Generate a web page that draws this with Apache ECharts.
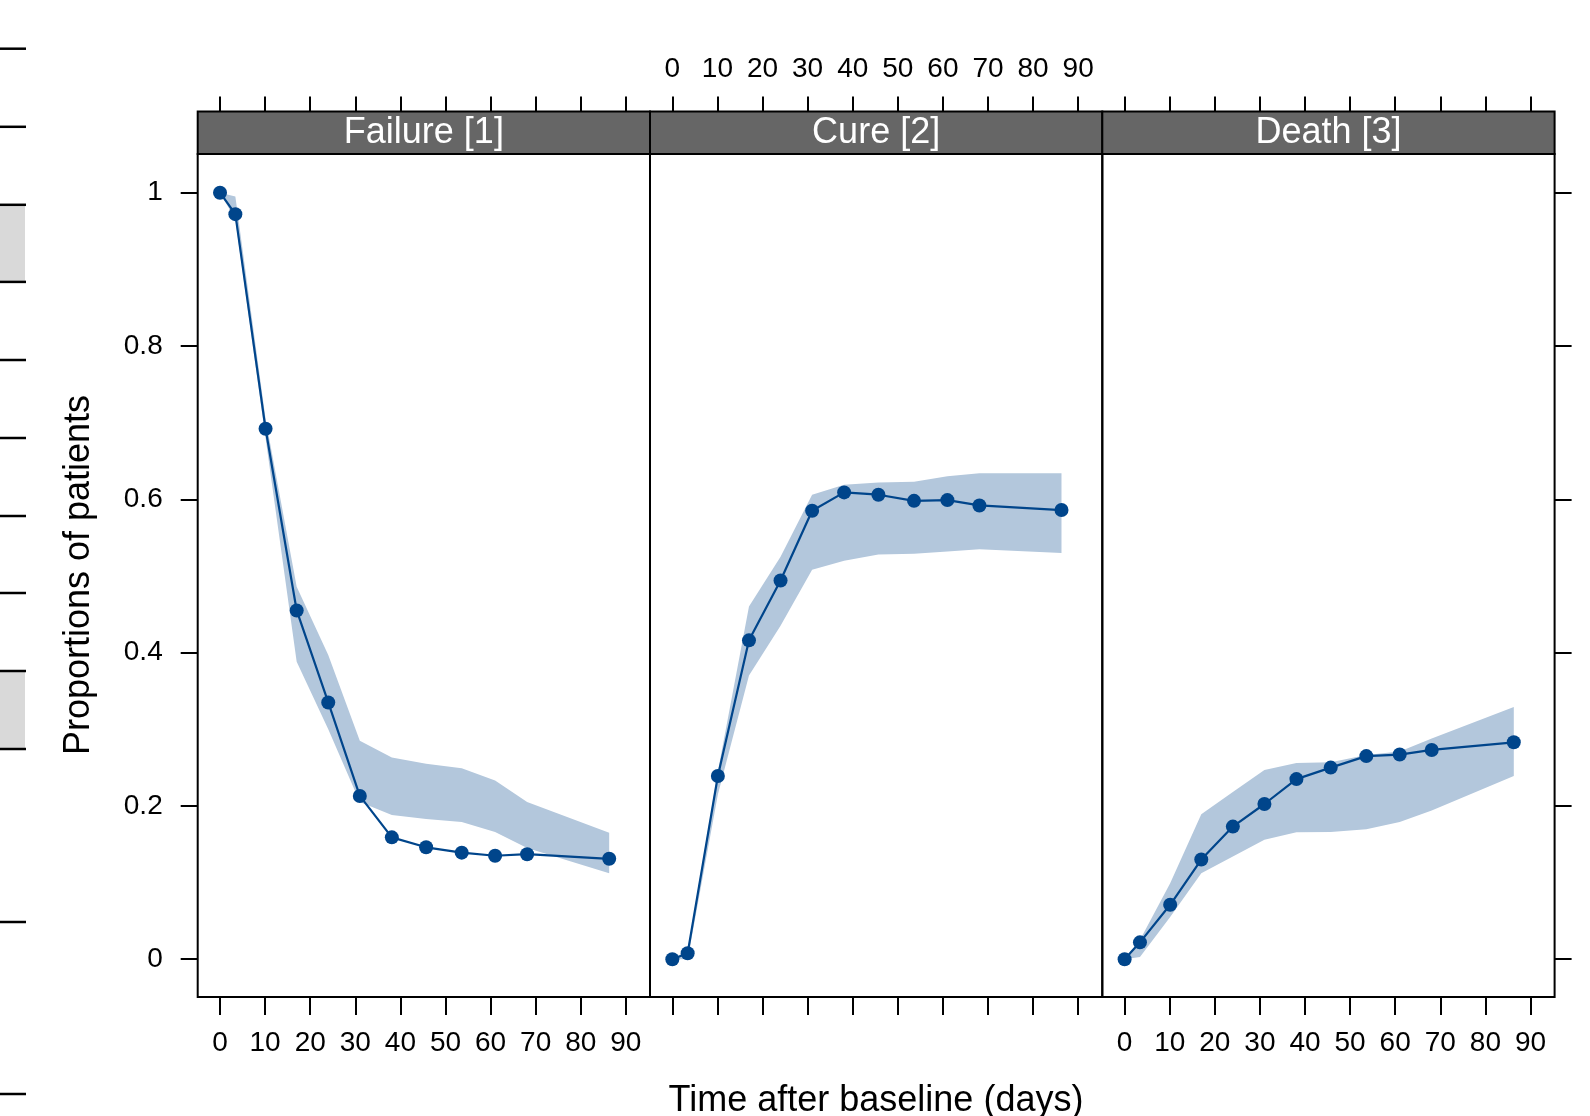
<!DOCTYPE html>
<html>
<head>
<meta charset="utf-8">
<script src="https://cdn.jsdelivr.net/npm/echarts@6/dist/echarts.min.js"></script>
<style>
  html, body { margin: 0; padding: 0; background: #fff; }
  #chart { width: 1590px; height: 1116px; }
</style>
</head>
<body>
<div id="chart"></div>
<script>
// panels (outcome states)
const panelNames = ['Failure [1]', 'Cure [2]', 'Death [3]']
// days after baseline of each visit
const times = [0, 3.4, 10.1, 17, 24, 31, 38.1, 45.7, 53.6, 61, 68.1, 86.3]

// observed proportions and band limits
const failure = [1.0, 0.972, 0.692, 0.455, 0.335, 0.213, 0.159, 0.146, 0.139, 0.135, 0.137, 0.131]
const failureLower = [1.0, 0.965, 0.68, 0.388, 0.30, 0.205, 0.188, 0.183, 0.179, 0.166, 0.145, 0.112]
const failureUpper = [1.0, 0.995, 0.705, 0.486, 0.397, 0.285, 0.263, 0.255, 0.249, 0.233, 0.205, 0.165]

const cure = [0, 0.0077, 0.239, 0.416, 0.494, 0.585, 0.609, 0.606, 0.598, 0.599, 0.592, 0.586]
const cureLower = [0, 0.0, 0.215, 0.37, 0.435, 0.508, 0.52, 0.528, 0.529, 0.532, 0.535, 0.53]
const cureUpper = [0, 0.012, 0.245, 0.46, 0.525, 0.606, 0.619, 0.622, 0.623, 0.63, 0.634, 0.634]

const death = [0, 0.022, 0.071, 0.130, 0.173, 0.2025, 0.235, 0.250, 0.265, 0.267, 0.273, 0.283]
const deathLower = [0, 0.003, 0.055, 0.112, 0.134, 0.156, 0.1655, 0.166, 0.1695, 0.179, 0.194, 0.239]
const deathUpper = [0, 0.025, 0.099, 0.189, 0.218, 0.247, 0.256, 0.257, 0.2665, 0.271, 0.288, 0.329]

const xTicks = [0, 10, 20, 30, 40, 50, 60, 70, 80, 90]
const yTicks = [0, 0.2, 0.4, 0.6, 0.8, 1]

const fontFamily = '"Liberation Sans", Arial, sans-serif'
const blue = '#00458b'
const bandColor = '#b3c7dc'

const panelData = [
  [failure, failureLower, failureUpper],
  [cure, cureLower, cureUpper],
  [death, deathLower, deathUpper]
]

// layout (px)
const lefts = [197.7, 650, 1102.3]
const panelW = 452.3
const panelTop = 154
const panelH = 843
const stripH = 42.5

var grids = []
var xAxes = []
var yAxes = []
var series = []
var graphics = []

// band polygon: upper edge left to right, lower edge back
function bandRenderer(bandRows) {
  return function(params, api) {
    if (params.dataIndex !== 0) return
    var pts = []
    for (var k = 0; k < bandRows.length; k++) pts.push(api.coord([bandRows[k][0], bandRows[k][2]]))
    for (var k = bandRows.length - 1; k >= 0; k--) pts.push(api.coord([bandRows[k][0], bandRows[k][1]]))
    return {
      type: 'polygon',
      shape: { points: pts },
      style: { fill: bandColor, stroke: null }
    }
  }
}

for (var i = 0; i < 3; i++) {
  grids.push({
    left: lefts[i], top: panelTop, width: panelW, height: panelH,
    show: true, borderColor: '#000', borderWidth: 2, backgroundColor: 'transparent'
  })
  // bottom axis
  xAxes.push({
    type: 'value', gridIndex: i, position: 'bottom', min: -4.95, max: 95.35,
    axisLine: { show: false, onZero: false }, splitLine: { show: false },
    axisTick: { show: true, length: 18, lineStyle: { color: '#000', width: 2 }, customValues: xTicks },
    axisLabel: { show: i !== 1, customValues: xTicks, margin: 32, fontSize: 28, color: '#000', fontFamily: fontFamily }
  })
  // top axis, sitting above the strip
  xAxes.push({
    type: 'value', gridIndex: i, position: 'top', offset: stripH, min: -4.95, max: 95.35,
    axisLine: { show: false, onZero: false }, splitLine: { show: false },
    axisTick: { show: true, length: 15, lineStyle: { color: '#000', width: 2 }, customValues: xTicks },
    axisLabel: { show: i === 1, customValues: xTicks, margin: 28, fontSize: 28, color: '#000', fontFamily: fontFamily }
  })
  yAxes.push({
    type: 'value', gridIndex: i, position: i === 2 ? 'right' : 'left',
    show: i !== 1, min: -0.0493, max: 1.0505,
    axisLine: { show: false, onZero: false }, splitLine: { show: false },
    axisTick: { show: true, length: 17, lineStyle: { color: '#000', width: 2 }, customValues: yTicks },
    axisLabel: {
      show: i === 0, customValues: yTicks, margin: 35, fontSize: 28, color: '#000', fontFamily: fontFamily,
      formatter: function(v) {
        if (v === 0) return '0'
        if (v === 1) return '1'
        return v.toFixed(1)
      }
    }
  })

  var vals = panelData[i][0]
  var lo = panelData[i][1]
  var hi = panelData[i][2]
  var bandRows = times.map((t, k) => [t, lo[k], hi[k]])
  series.push({
    type: 'custom', xAxisIndex: 2 * i, yAxisIndex: i,
    data: bandRows, encode: { x: 0, y: [1, 2] },
    renderItem: bandRenderer(bandRows), silent: true, z: 1
  })
  series.push({
    type: 'line', xAxisIndex: 2 * i, yAxisIndex: i,
    data: times.map((t, k) => [t, vals[k]]),
    symbol: 'circle', symbolSize: 14, z: 3,
    itemStyle: { color: blue },
    lineStyle: { color: blue, width: 2.2 }
  })

  // strip
  graphics.push({
    type: 'rect', shape: { x: lefts[i], y: panelTop - stripH, width: panelW, height: stripH },
    style: { fill: '#666666', stroke: '#000', lineWidth: 2 }, z: 10
  })
  graphics.push({
    type: 'text', x: lefts[i] + panelW / 2, y: panelTop - stripH / 2, z: 11,
    style: { text: panelNames[i], fill: '#fff', font: '36px ' + fontFamily, textAlign: 'center', textVerticalAlign: 'middle' }
  })
}

// axis titles
graphics.push({
  type: 'text', x: 876, y: 1101, z: 11,
  style: { text: 'Time after baseline (days)', fill: '#000', font: '36px ' + fontFamily, textAlign: 'center', textVerticalAlign: 'middle' }
})
graphics.push({
  type: 'text', x: 79, y: 575, rotation: Math.PI / 2, z: 11,
  style: { text: 'Proportions of patients', fill: '#000', font: '36px ' + fontFamily, textAlign: 'center', textVerticalAlign: 'middle' }
})

// edge of the neighbouring plot on the left
var edgeTicks = [48.7, 126.8, 204.8, 281.9, 360, 438, 516, 593, 671, 749, 922, 1094]
graphics.push({ type: 'rect', shape: { x: 0, y: 204.8, width: 25, height: 77.1 }, style: { fill: '#d9d9d9' } })
graphics.push({ type: 'rect', shape: { x: 0, y: 671, width: 25, height: 78 }, style: { fill: '#d9d9d9' } })
for (var e of edgeTicks) {
  graphics.push({ type: 'line', shape: { x1: 0, y1: e, x2: 26, y2: e }, style: { stroke: '#000', lineWidth: 2.5 } })
}

var chart = echarts.init(document.getElementById('chart'))
chart.setOption({
  animation: false,
  backgroundColor: '#fff',
  grid: grids,
  xAxis: xAxes,
  yAxis: yAxes,
  series: series,
  graphic: graphics
})
</script>
</body>
</html>
